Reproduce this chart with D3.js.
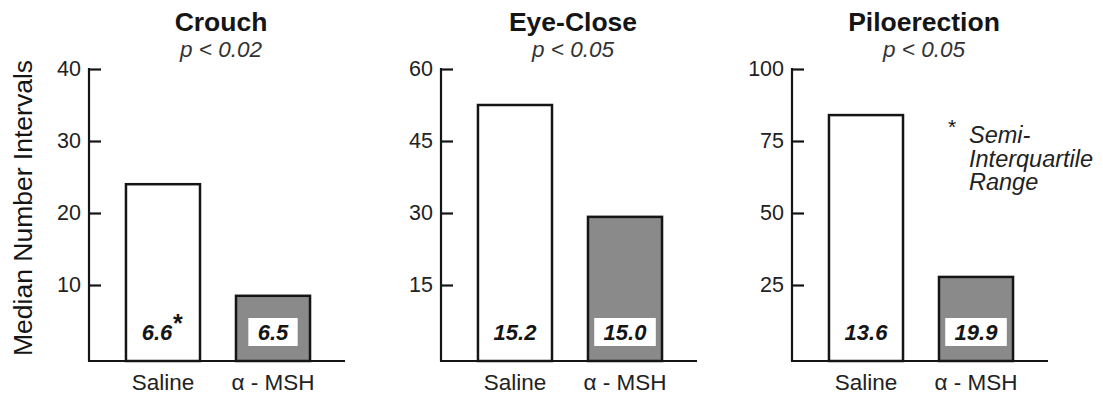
<!DOCTYPE html>
<html>
<head>
<meta charset="utf-8">
<script src="https://cdn.jsdelivr.net/npm/d3@7"></script>
<style>
  html, body { margin: 0; padding: 0; background: #fff; }
  svg { display: block; font-family: "Liberation Sans", Arial, Helvetica, sans-serif; }
</style>
</head>
<body>
<svg id="chart" width="1103" height="399"></svg>
<script>
// ---- data ----
const panelTitles = ["Crouch", "Eye-Close", "Piloerection"];
const pValues = ["p < 0.02", "p < 0.05", "p < 0.05"];
const categories = ["Saline", "\u03b1 - MSH"];
const salineMedian = [24.0, 52.5, 84.0];
const mshMedian = [8.5, 29.2, 27.8];
const salineSIQR = ["6.6", "15.2", "13.6"];
const mshSIQR = ["6.5", "15.0", "19.9"];
const yMax = [40, 60, 100];
const yTicks = [[10, 20, 30, 40], [15, 30, 45, 60], [25, 50, 75, 100]];
const yAxisLabel = "Median Number Intervals";
const legendLines = ["Semi-", "Interquartile", "Range"];

// ---- layout ----
const svg = d3.select("#chart");
const panelX = [89, 441, 792];
const plotW = 258;
const yTop = 69, yZero = 357, baseY = 361;
const ink = "#151515";
const grayFill = "#8a8a8a";

svg.append("text")
  .attr("transform", `translate(32,${208}) rotate(-90)`)
  .attr("text-anchor", "middle")
  .attr("font-size", 26.5)
  .attr("fill", ink)
  .text(yAxisLabel);

panelTitles.forEach((title, i) => {
  const g = svg.append("g").attr("transform", `translate(${panelX[i]},0)`);
  const y = d3.scaleLinear().domain([0, yMax[i]]).range([yZero, yTop]);
  const x = d3.scaleBand().domain(categories).range([0, plotW])
    .paddingInner(0.327).paddingOuter(0.336);

  // title & p-value
  g.append("text").attr("x", plotW / 2 + 3).attr("y", 31)
    .attr("text-anchor", "middle").attr("font-size", 26.5).attr("font-weight", "bold")
    .attr("fill", ink).text(title);
  g.append("text").attr("x", plotW / 2 + 3).attr("y", 57)
    .attr("text-anchor", "middle").attr("font-size", 22.5).attr("font-style", "italic")
    .attr("fill", "#333").text(pValues[i]);

  // bars
  const vals = [salineMedian[i], mshMedian[i]];
  const fills = ["#ffffff", grayFill];
  g.selectAll("rect.bar").data(categories).join("rect")
    .attr("class", "bar")
    .attr("x", d => x(d))
    .attr("width", x.bandwidth())
    .attr("y", (d, j) => y(vals[j]))
    .attr("height", (d, j) => baseY - y(vals[j]))
    .attr("fill", (d, j) => fills[j])
    .attr("stroke", ink)
    .attr("stroke-width", 2.5);

  // y axis
  const axis = d3.axisLeft(y).tickValues(yTicks[i]).tickSizeInner(-12).tickSizeOuter(0).tickPadding(8);
  const ag = g.append("g").call(axis);
  ag.select(".domain").remove();
  ag.selectAll(".tick line").attr("stroke", ink).attr("stroke-width", 2.2);
  ag.selectAll(".tick text").attr("font-size", 21.5).attr("fill", "#222")
    .attr("font-family", "Liberation Sans, Arial, sans-serif");
  g.append("line").attr("x1", 0).attr("x2", 0).attr("y1", yTop - 1).attr("y2", baseY)
    .attr("stroke", ink).attr("stroke-width", 2.2);
  // baseline
  g.append("line").attr("x1", -1).attr("x2", plotW - 2).attr("y1", baseY).attr("y2", baseY)
    .attr("stroke", ink).attr("stroke-width", 2.2);

  // category labels
  g.selectAll("text.cat").data(categories).join("text")
    .attr("class", "cat")
    .attr("x", d => x(d) + x.bandwidth() / 2)
    .attr("y", 390)
    .attr("text-anchor", "middle")
    .attr("font-size", 22.5)
    .attr("fill", "#222")
    .text(d => d);

  // SIQR labels
  const cx0 = x(categories[0]) + x.bandwidth() / 2;
  const cx1 = x(categories[1]) + x.bandwidth() / 2;
  g.append("text").attr("x", i === 0 ? cx0 - 6 : cx0).attr("y", 340).attr("text-anchor", "middle")
    .attr("font-size", 22).attr("font-weight", "bold").attr("font-style", "italic")
    .attr("fill", ink).text(salineSIQR[i]);
  if (i === 0) {
    g.append("text").attr("x", cx0 + 15).attr("y", 332).attr("text-anchor", "middle")
      .attr("font-size", 25).attr("font-weight", "bold").attr("fill", ink).text("*");
  }
  const t1 = g.append("text").attr("x", cx1).attr("y", 340).attr("text-anchor", "middle")
    .attr("font-size", 22).attr("font-weight", "bold").attr("font-style", "italic")
    .attr("fill", ink).text(mshSIQR[i]);
  const bb = t1.node().getBBox();
  g.insert("rect", () => t1.node())
    .attr("x", cx1 - bb.width / 2 - 9).attr("width", bb.width + 18)
    .attr("y", 318).attr("height", 28)
    .attr("fill", "#fff");
});

// legend note
const lg = svg.append("g");
lg.append("text").attr("x", 948).attr("y", 134).attr("font-size", 21).attr("fill", ink).text("*");
legendLines.forEach((t, k) => {
  lg.append("text").attr("x", 969).attr("y", 143 + k * 23.5)
    .attr("font-size", 23.5).attr("font-style", "italic").attr("fill", "#222").text(t);
});
</script>
</body>
</html>
